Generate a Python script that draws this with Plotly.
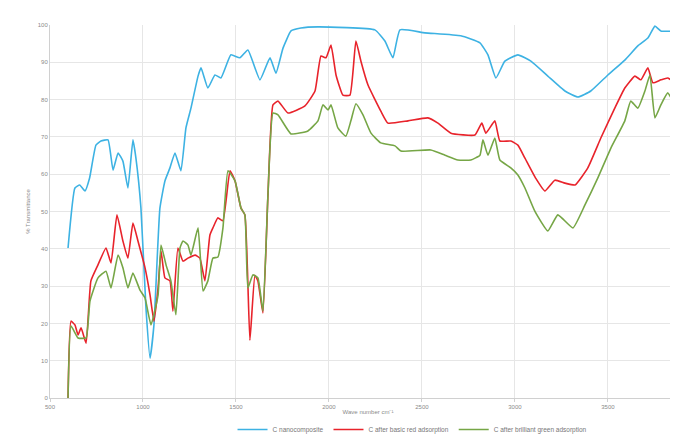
import plotly.graph_objects as go

# Wavenumber (cm-1) and % transmittance
wn_nano = [597, 634, 660, 688, 713, 747, 774, 812, 839, 866, 892, 919, 946, 962, 989,
           1016, 1038, 1059, 1091, 1118, 1145, 1172, 1204, 1231, 1258, 1296, 1312, 1349,
           1387, 1419, 1473, 1521, 1564, 1629, 1683, 1715, 1753, 1796, 1849, 1941, 2247,
           2301, 2344, 2382, 2516, 2709, 2812, 2855, 2898, 2946, 3016, 3086, 3177, 3269,
           3339, 3408, 3500, 3591, 3661, 3715, 3753, 3785, 3876, 3919]
t_nano = [40.2, 56.3, 57.1, 55.5, 59.0, 67.8, 68.9, 69.2, 61.1, 65.7, 63.5, 56.3, 69.2, 64.3, 50.9,
          24.1, 10.7, 19.6, 50.9, 58.2, 61.7, 65.7, 60.9, 72.4, 77.7, 86.3, 88.5, 83.1,
          86.6, 85.8, 92.0, 91.2, 93.3, 85.3, 91.2, 87.1, 93.8, 98.4, 99.2, 99.5, 98.7,
          95.7, 91.2, 98.7, 97.9, 97.1, 95.2, 92.0, 85.8, 90.3, 92.0, 90.3, 86.3, 82.3,
          80.7, 82.3, 86.6, 90.6, 94.4, 96.5, 99.7, 98.4, 98.4, 99.2]

wn_red = [597, 613, 634, 651, 667, 694, 720, 758, 801, 828, 860, 892, 919, 946, 973, 1011,
          1038, 1059, 1081, 1097, 1118, 1145, 1161, 1188, 1215, 1242, 1280, 1306, 1333, 1360,
          1376, 1403, 1430, 1468, 1495, 1527, 1548, 1575, 1602, 1618, 1645, 1672, 1699, 1726,
          1780, 1871, 1925, 1957, 1984, 2011, 2038, 2075, 2113, 2145, 2172, 2210, 2279, 2317,
          2425, 2532, 2586, 2656, 2785, 2822, 2844, 2892, 2919, 2978, 3016, 3054, 3112, 3161,
          3215, 3269, 3323, 3392, 3462, 3537, 3591, 3645, 3677, 3715, 3742, 3785, 3822, 3860, 3919]
t_red = [0, 20.6, 19.6, 16.9, 18.8, 14.7, 31.4, 35.7, 40.2, 36.2, 49.1, 42.1, 37.5, 46.9, 42.1, 34.9,
         27.6, 20.6, 29.5, 39.4, 32.2, 31.4, 23.3, 40.2, 36.7, 37.5, 38.3, 37.5, 31.4, 43.7,
         45.6, 48.3, 47.5, 60.9, 58.2, 50.9, 49.1, 15.5, 32.9, 31.4, 22.8, 54.4, 78.6, 79.6,
         76.4, 78.3, 82.3, 91.7, 91.2, 94.6, 86.6, 81.2, 81.2, 95.7, 90.3, 83.9, 76.9, 73.7,
         74.3, 75.1, 73.7, 71.0, 70.5, 73.7, 71.0, 74.3, 68.9, 68.9, 67.8, 64.3, 58.9, 55.5,
         58.4, 57.6, 57.1, 61.7, 69.7, 77.7, 83.1, 86.3, 85.3, 88.5, 84.5, 85.3, 85.8, 84.5, 82.6]

wn_green = [597, 613, 651, 694, 715, 758, 801, 828, 866, 892, 919, 946, 984, 1011, 1043, 1081,
            1097, 1124, 1150, 1177, 1199, 1215, 1242, 1258, 1296, 1323, 1349, 1376, 1403, 1430,
            1457, 1495, 1527, 1548, 1564, 1591, 1618, 1645, 1672, 1699, 1726, 1796, 1887, 1941,
            1968, 1995, 2011, 2048, 2091, 2118, 2145, 2183, 2226, 2279, 2355, 2387, 2548, 2624,
            2693, 2763, 2812, 2828, 2855, 2892, 2919, 2978, 3016, 3054, 3107, 3177, 3231, 3312,
            3376, 3446, 3516, 3591, 3623, 3661, 3699, 3726, 3753, 3785, 3822, 3860, 3919]
t_green = [0, 19.3, 16.1, 16.1, 26.0, 32.2, 34.0, 29.5, 38.3, 34.9, 29.5, 33.5, 28.9, 26.8, 19.6, 27.6,
           41.0, 35.7, 31.4, 22.3, 40.2, 42.1, 41.0, 38.3, 45.6, 28.7, 31.4, 37.5, 37.8, 45.6,
           60.9, 58.2, 50.9, 49.1, 29.5, 33.0, 32.2, 23.3, 54.4, 76.4, 75.9, 70.8, 71.6, 74.3,
           78.6, 77.2, 78.6, 72.4, 70.2, 74.3, 78.9, 75.9, 71.0, 68.4, 67.6, 66.2, 66.5, 65.1,
           63.8, 63.8, 65.1, 69.2, 65.1, 69.7, 63.8, 61.7, 59.8, 56.3, 50.1, 44.8, 49.1, 45.6,
           51.7, 59.0, 67.0, 74.3, 79.6, 77.7, 82.3, 86.6, 75.1, 78.6, 81.8, 78.6, 74.3]

names = ["C nanocomposite", "C after basic red adsorption", "C after brilliant green adsorption"]
colors = ["#3DB2E3", "#E8232B", "#76A646"]
x_ticks = [500, 1000, 1500, 2000, 2500, 3000, 3500]
y_ticks = [0, 10, 20, 30, 40, 50, 60, 70, 80, 90, 100]

fig = go.Figure()
for xs, ys, nm, col in [(wn_nano, t_nano, names[0], colors[0]),
                        (wn_red, t_red, names[1], colors[1]),
                        (wn_green, t_green, names[2], colors[2])]:
    fig.add_trace(go.Scatter(x=xs, y=ys, mode="lines", name=nm,
                             line=dict(color=col, width=1.6, shape="spline", smoothing=0.4)))

fig.update_layout(
    width=678, height=436,
    margin=dict(l=42, r=0, t=17, b=46, autoexpand=False),
    paper_bgcolor="white", plot_bgcolor="white",
    font=dict(family="Liberation Sans, Arial, sans-serif", size=6, color="#8a8a8a"),
    showlegend=True,
    legend=dict(orientation="h", x=0.57, xanchor="center", y=0.0, yanchor="bottom",
                yref="container", xref="paper",
                font=dict(size=6.5, color="#777777"), itemwidth=30, tracegroupgap=0),
)
fig.update_xaxes(range=[500, 3920], tickvals=x_ticks, showgrid=True, gridcolor="#E6E6E6",
                 gridwidth=1, showline=True, linecolor="#D0D0D0", zeroline=False,
                 ticks="outside", ticklen=3, tickcolor="#D0D0D0", automargin=False,
                 title=dict(text="Wave number cm⁻¹", font=dict(size=6, color="#8a8a8a"), standoff=6))
fig.update_yaxes(range=[0, 100], tickvals=y_ticks, showgrid=True, gridcolor="#E6E6E6",
                 gridwidth=1, showline=True, linecolor="#D0D0D0", zeroline=False, automargin=False,
                 title=dict(text="% Transmittance", font=dict(size=6, color="#8a8a8a"), standoff=6))

fig.write_html("out.html")
